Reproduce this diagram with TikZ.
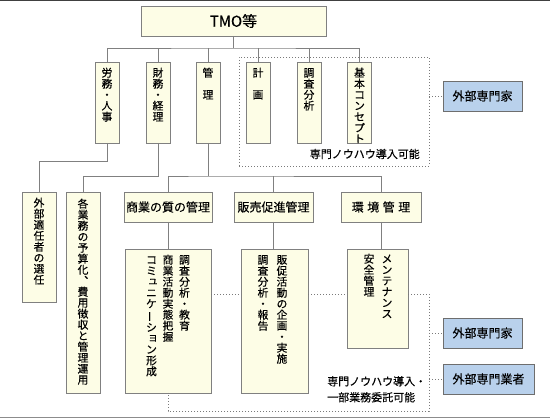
\documentclass[tikz,border=0pt]{standalone}
\usepackage{fontspec}
\usepackage{graphicx}
\setmainfont{Noto Sans CJK JP}[FakeBold=0.3]
\definecolor{cream}{HTML}{FDFDE6}
\definecolor{lg}{HTML}{808080}
\definecolor{dg}{HTML}{7A7A7A}
\definecolor{lblue}{HTML}{B9D1EC}
\definecolor{bg}{HTML}{6E6E6E}
% vertical column of characters
\newcommand\vcol[1]{\vtop{\offinterlineskip\fontsize{10.8}{11}\selectfont\vcolx#1\relax}}
\def\vcolx#1{\ifx\relax#1\else\hbox to 11pt{\hss\vrule height 9.6pt depth 1.4pt width 0pt#1\hss}\expandafter\vcolx\fi}
\def\vb{\rotatebox[origin=c]{90}{ー}}
\def\vsu{\raisebox{1.5pt}[9pt][1pt]{\hspace{3pt}ュ}}
\def\vso{\raisebox{1.5pt}[9pt][1pt]{\hspace{3pt}ョ}}
\begin{document}
\begin{tikzpicture}[x=1pt,y=-1pt,
  box/.style={draw=lg, fill=cream, line width=0.9pt, inner sep=0pt, outer sep=0pt},
  bbox/.style={draw=bg, fill=lblue, line width=0.9pt, inner sep=0pt, outer sep=0pt, font=\fontsize{12}{14}\selectfont},
  conn/.style={draw=lg, line width=0.9pt},
  dots/.style={draw=dg, line width=0.8pt, dash pattern=on 0.8pt off 2.2pt},
  vtxt/.style={inner sep=0pt, anchor=north},
  htxt/.style={font=\fontsize{12}{14}\selectfont},
  lbl/.style={inner sep=0pt, font=\fontsize{11}{16}\selectfont}
  ]
\useasboundingbox (0,0) rectangle (550,419);
\draw[draw=black!75, line width=1.2pt] (0,0.6) -- (550,0.6);
\draw[draw=black!45, line width=1pt] (0,417.5) -- (550,417.5);

% top node
\node[box, minimum width=185pt, minimum height=30pt, font=\fontsize{15}{17}\selectfont] (tmo) at (233.5,21) {TMO等};

% dotted group (top)
\node[dots, minimum width=190pt, minimum height=109pt, inner sep=0pt] (grp1) at (334,111.5) {};
\node[lbl, anchor=east] (grp1lbl) at (420,154) {専門ノウハウ導入可能};
\node[bbox, minimum width=79pt, minimum height=30pt] (gaibu1) at (482.5,96) {外部専門家};

% top row boxes
\node[box, minimum width=24pt, minimum height=81pt] (roumu) at (107,102.5) {};
\node[box, minimum width=24pt, minimum height=81pt] (zaimu) at (158,102.5) {};
\node[box, minimum width=24pt, minimum height=81pt] (kanri) at (208,102.5) {};
\node[box, minimum width=24pt, minimum height=81pt] (keikaku) at (258,102.5) {};
\node[box, minimum width=24pt, minimum height=81pt] (chousa) at (309,102.5) {};
\node[box, minimum width=24pt, minimum height=81pt] (kihon) at (359.5,102.5) {};
\node[vtxt] (roumuT) at ([yshift=-5pt]roumu.north) {\vcol{労務・人事}};
\node[vtxt] (zaimuT) at ([yshift=-5pt]zaimu.north) {\vcol{財務・経理}};
\node[vtxt] (kanriT) at ([yshift=-5pt]kanri.north) {\vcol{管　理}};
\node[vtxt] (keikakuT) at ([yshift=-5pt]keikaku.north) {\vcol{計　画}};
\node[vtxt] (chousaT) at ([yshift=-5pt]chousa.north) {\vcol{調査分析}};
\node[vtxt] (kihonT) at ([yshift=-5pt]kihon.north) {\vcol{基本コンセプト}};

% second row
\node[box, minimum width=34pt, minimum height=110pt] (tekinin) at (39,247) {};
\node[box, minimum width=34pt, minimum height=201pt] (yosan) at (83,292.5) {};
\node[box, minimum width=88pt, minimum height=30pt, htxt] (shitsu) at (168,207) {商業の質の管理};
\node[box, minimum width=79pt, minimum height=30pt, htxt] (hanbai) at (273.5,207) {販売促進管理};
\node[box, minimum width=80pt, minimum height=30pt, htxt] (kankyo) at (381,207) {環\hspace{3.5pt}境\hspace{3.5pt}管\hspace{3.5pt}理};
\node[vtxt] (tekininT) at ([yshift=-5pt]tekinin.north) {\vcol{外部適任者の選任}};
\node[vtxt] (yosanT) at ([yshift=-6pt]yosan.north) {\vcol{各業務の予算化︑費用徴収と管理運用}};

% sub boxes
\node[box, minimum width=86pt, minimum height=144pt] (sub1) at (168,321) {};
\node[box, minimum width=67pt, minimum height=144pt] (sub2) at (274.5,321) {};
\node[box, minimum width=61pt, minimum height=99pt] (sub3) at (377.5,298.5) {};
\node[vtxt] (sub1T) at ([yshift=-5pt]sub1.north) {\hbox{\vcol{コミ\vsu ニケ\vb シ\vso ン形成}\hspace{5.5pt}\vcol{商業活動実態把握}\hspace{5.5pt}\vcol{調査分析・教育}}};
\node[vtxt] (sub2T) at ([xshift=-2pt,yshift=-5pt]sub2.north) {\hbox{\vcol{調査分析・報告}\hspace{8pt}\vcol{販促活動の企画・実施}}};
\node[vtxt] (sub3T) at ([xshift=0.5pt,yshift=-4pt]sub3.north) {\hbox{\vcol{安全管理}\hspace{7pt}\vcol{メンテナンス}}};

% external boxes (bottom)
\node[bbox, minimum width=79pt, minimum height=30pt] (gaibu2) at (482.5,333) {外部専門家};
\node[bbox, minimum width=91pt, minimum height=30pt] (gyosha) at (488.5,379) {外部専門業者};
\node[lbl, anchor=north west, align=left] (grp2lbl) at (327,376) {専門ノウハウ導入・\\一部業務委託可能};

% connectors
\draw[conn] (tmo.south) -- ++(0,12) coordinate (bus1);
\draw[conn] (roumu.north) |- (bus1) -| (kihon.north);
\draw[conn] (zaimu.north) -- (zaimu.north |- bus1);
\draw[conn] (kanri.north) -- (kanri.north |- bus1);
\draw[conn] (keikaku.north) -- (keikaku.north |- bus1);
\draw[conn] (chousa.north) -- (chousa.north |- bus1);
\draw[conn] (roumu.south) -- ++(0,18) -| (tekinin.north);
\draw[conn] (zaimu.south) -- ++(0,33) -| (yosan.north);
\draw[conn] (kanri.south) -- ++(0,33) coordinate (bus2);
\draw[conn] (shitsu.north) |- (bus2) -| (kankyo.north);
\draw[conn] (hanbai.north) -- (hanbai.north |- bus2);
\draw[conn] (shitsu.south) -- (sub1.north);
\draw[conn] (hanbai.south) -- (hanbai.south |- sub2.north);
\draw[conn] (kankyo.south) -- (kankyo.south |- sub3.north);

% dotted connectors
\draw[dots] (grp1.east |- gaibu1.west) -- (gaibu1.west);
\coordinate (c1) at (429,294);
\coordinate (c2) at (429,411);
\draw[dots] (sub1.east |- c1) -- (sub2.west |- c1);
\draw[dots] (sub2.east |- c1) -- (sub3.west |- c1);
\draw[dots] (sub3.east |- c1) -- (c1) -- (c2) -| (sub1.south);
\draw[dots] (c1 |- gaibu2.west) -- (gaibu2.west);
\draw[dots] (c1 |- gyosha.west) -- (gyosha.west);
\end{tikzpicture}
\end{document}
